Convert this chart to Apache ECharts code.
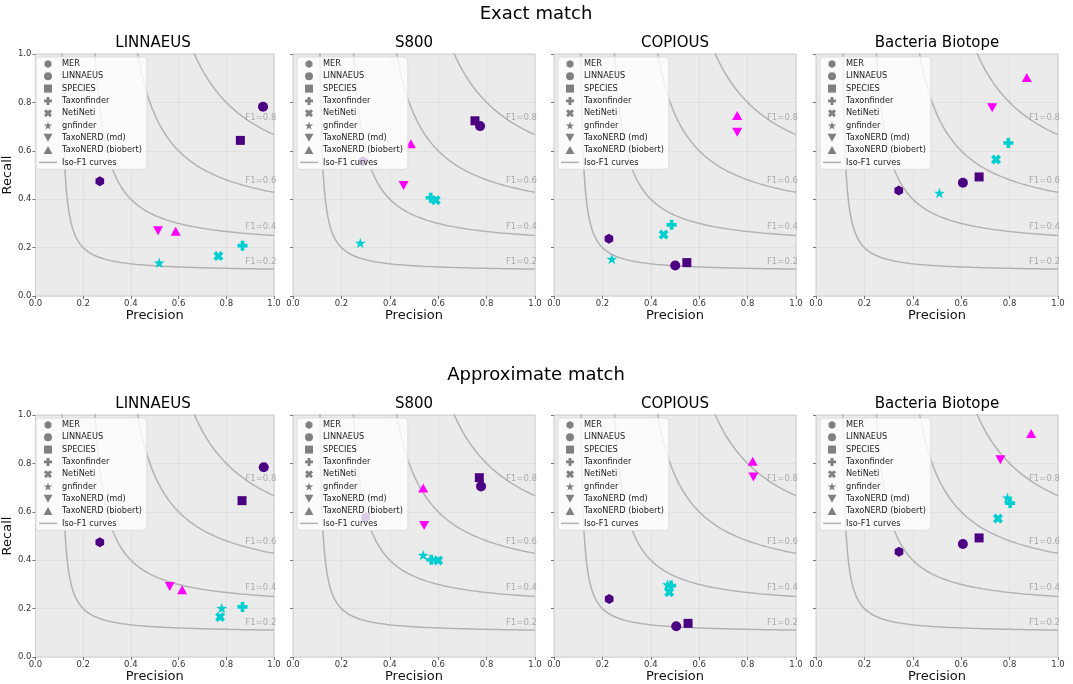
<!DOCTYPE html>
<html>
<head>
<meta charset="utf-8">
<script src="https://cdn.jsdelivr.net/npm/echarts@6/dist/echarts.min.js"></script>
<style>
html,body{margin:0;padding:0;background:#fff;}
#chart{width:1073px;height:684px;}
</style>
</head>
<body>
<div id="chart"></div>
<script>
// ---------- data ----------
const tools = ['MER','LINNAEUS','SPECIES','Taxonfinder','NetiNeti','gnfinder','TaxoNERD (md)','TaxoNERD (biobert)'];
const corpora = ['LINNAEUS','S800','COPIOUS','Bacteria Biotope'];
const rowTitles = ['Exact match','Approximate match'];
const f1Levels = [0.2, 0.4, 0.6, 0.8];

// [precision, recall] in the order of `tools`
const exactLINNAEUS = [[0.270,0.474],[0.954,0.782],[0.859,0.643],[0.868,0.208],[0.767,0.165],[0.519,0.137],[0.514,0.270],[0.588,0.268]];
const exactS800     = [[0.289,0.557],[0.773,0.702],[0.752,0.724],[0.569,0.406],[0.590,0.396],[0.278,0.219],[0.457,0.457],[0.487,0.629]];
const exactCOPIOUS  = [[0.227,0.237],[0.501,0.126],[0.549,0.138],[0.486,0.294],[0.453,0.254],[0.239,0.153],[0.757,0.677],[0.757,0.746]];
const exactBB       = [[0.342,0.436],[0.607,0.468],[0.674,0.492],[0.795,0.632],[0.744,0.564],[0.510,0.426],[0.728,0.778],[0.871,0.903]];
const approxLINNAEUS= [[0.270,0.474],[0.957,0.784],[0.866,0.646],[0.868,0.207],[0.774,0.165],[0.781,0.202],[0.563,0.291],[0.615,0.278]];
const approxS800    = [[0.300,0.577],[0.777,0.705],[0.770,0.741],[0.571,0.402],[0.600,0.399],[0.538,0.421],[0.542,0.543],[0.538,0.698]];
const approxCOPIOUS = [[0.228,0.240],[0.505,0.127],[0.554,0.139],[0.484,0.295],[0.476,0.268],[0.469,0.300],[0.824,0.744],[0.821,0.809]];
const approxBB      = [[0.343,0.435],[0.607,0.467],[0.674,0.492],[0.802,0.636],[0.752,0.572],[0.791,0.658],[0.762,0.815],[0.889,0.924]];

const panels = [exactLINNAEUS, exactS800, exactCOPIOUS, exactBB, approxLINNAEUS, approxS800, approxCOPIOUS, approxBB];

// ---------- styles ----------
const INDIGO = '#4B0082', TURQ = '#00CED1', MAGENTA = '#FF00FF';
const toolColors = [INDIGO, INDIGO, INDIGO, TURQ, TURQ, TURQ, MAGENTA, MAGENTA];

function polyPath(pts){
  return 'path://' + pts.map((p,i)=>(i?'L':'M')+p[0].toFixed(3)+','+p[1].toFixed(3)).join(' ') + ' Z';
}
const plusPts = [[-3.6,-10],[3.6,-10],[3.6,-3.6],[10,-3.6],[10,3.6],[3.6,3.6],[3.6,10],[-3.6,10],[-3.6,3.6],[-10,3.6],[-10,-3.6],[-3.6,-3.6]];
const xPts = plusPts.map(p=>[(p[0]-p[1])/Math.SQRT2,(p[0]+p[1])/Math.SQRT2]);
const starPts = [];
for (let k=0;k<10;k++){
  const ang = -Math.PI/2 + k*Math.PI/5;
  const rr = k%2===0 ? 10 : 3.9;
  starPts.push([rr*Math.cos(ang), rr*Math.sin(ang)]);
}
const hexPts = [];
for (let k=0;k<6;k++){ const a=-Math.PI/2+k*Math.PI/3; hexPts.push([10*Math.cos(a),10*Math.sin(a)]); }

const toolSymbols = [
  polyPath(hexPts),
  'circle',
  'path://M-10,-10 L10,-10 L10,10 L-10,10 Z',
  polyPath(plusPts),
  polyPath(xPts),
  polyPath(starPts),
  'path://M-10,-9 L10,-9 L0,9 Z',
  'path://M0,-9 L10,9 L-10,9 Z'
];
const toolSizes = [10, 10, 9, 10, 10, 11, 10, 10];

const FONT = 'DejaVu Sans';
const gridLefts = [32, 293, 554, 816];
const gridTops = [54, 415];
const GW = 242, GH = 242;

// iso-F1 reference curves (as in the sklearn precision-recall example)
function isoCurve(f){
  const pts = [];
  const n = 200;
  for (let i=0;i<n;i++){
    const x = 0.01 + i*(0.99/(n-1));
    const y = f*x/(2*x - f);
    if (y >= 0) pts.push([x, y]);
  }
  return pts;
}
function isoAt(f, x){ return f*x/(2*x - f); }

const grid = [], xAxis = [], yAxis = [], series = [], legend = [], title = [];

rowTitles.forEach((t, r)=>{
  title.push({text: t, left: 536, top: r===0 ? 5 : 366, textAlign: 'center', padding: 0,
    textStyle:{fontFamily: FONT, fontSize: 18, fontWeight: 'normal', color:'#000'}});
});

panels.forEach((pdata, i)=>{
  const row = Math.floor(i/4), col = i%4;
  const left = gridLefts[col], top = gridTops[row];
  grid.push({left: left, top: top, width: GW, height: GH, show: true,
    backgroundColor: '#ebebeb', borderColor: '#cfcfcf', borderWidth: 1, containLabel: false});
  title.push({text: corpora[col], left: left + GW/2, top: top - 18, textAlign: 'center', padding: 0,
    textStyle:{fontFamily: FONT, fontSize: 15, fontWeight:'normal', color:'#000'}});
  xAxis.push({type:'value', gridIndex: i, min: 0, max: 1, interval: 0.2,
    name: 'Precision', nameLocation: 'middle', nameGap: 11,
    nameTextStyle:{fontFamily: FONT, fontSize: 13, color:'#111', verticalAlign:'top'},
    axisLine:{show:false}, axisTick:{show:true, length:3, lineStyle:{color:'#777'}},
    axisLabel:{fontFamily: FONT, fontSize: 8.5, color:'#333', margin: 3, formatter: v=>v.toFixed(1)},
    splitLine:{show:true, lineStyle:{color:'#cfcfcf', width:0.8, type:'dotted'}}});
  yAxis.push({type:'value', gridIndex: i, min: 0, max: 1, interval: 0.2,
    name: col===0 ? 'Recall' : '', nameLocation: 'middle', nameGap: 14,
    nameTextStyle:{fontFamily: FONT, fontSize: 13, color:'#111'},
    axisLine:{show:false}, axisTick:{show:true, length:3, lineStyle:{color:'#777'}},
    axisLabel:{show: col===0, fontFamily: FONT, fontSize: 8.5, color:'#333', margin: 4, formatter: v=>v.toFixed(1)},
    splitLine:{show:true, lineStyle:{color:'#cfcfcf', width:0.8, type:'dotted'}}});

  f1Levels.forEach(f=>{
    series.push({type:'line', name:'Iso-F1 curves', xAxisIndex:i, yAxisIndex:i,
      data: isoCurve(f), symbol:'none', showSymbol:false, clip:true, silent:true, z:1,
      lineStyle:{color:'#b2b2b2', width:1.5}, itemStyle:{color:'#b2b2b2'}});
    series.push({type:'scatter', name:'f1label', xAxisIndex:i, yAxisIndex:i, silent:true, z:1,
      data:[[0.88, isoAt(f, 0.919) + 0.03]], symbolSize: 0,
      label:{show:true, position:'right', distance:0, formatter:'F1=' + f.toFixed(1),
        fontFamily: FONT, fontSize: 8.5, color:'#9a9a9a'}});
  });

  tools.forEach((tname, t)=>{
    series.push({type:'scatter', name: tname, xAxisIndex:i, yAxisIndex:i, z:3,
      data:[pdata[t]], symbol: toolSymbols[t], symbolSize: toolSizes[t], symbolKeepAspect: true,
      itemStyle:{color: toolColors[t], opacity: 1}});
  });

  legend.push({orient:'vertical', left: left + 4, top: top + 3, itemWidth: 18, itemHeight: 8, itemGap: 4.3,
    padding:[3,5,3,3], backgroundColor:'rgba(255,255,255,0.8)', borderColor:'#dddddd', borderWidth:1, borderRadius:3,
    selectedMode: false, z: 10, symbolKeepAspect: true,
    textStyle:{fontFamily: FONT, fontSize: 8.2, color:'#222'},
    data: tools.map((tn,t)=>({name: tn, icon: toolSymbols[t], itemStyle:{color:'#808080'}}))
      .concat([{name:'Iso-F1 curves', icon:'path://M0,0 L18,0 L18,1.5 L0,1.5 Z', itemStyle:{color:'#b2b2b2'}}])
  });
});

const chart = echarts.init(document.getElementById('chart'), null, {renderer:'canvas'});
chart.setOption({
  animation: false,
  backgroundColor: '#ffffff',
  title, grid, xAxis, yAxis, legend, series
});
</script>
</body>
</html>
